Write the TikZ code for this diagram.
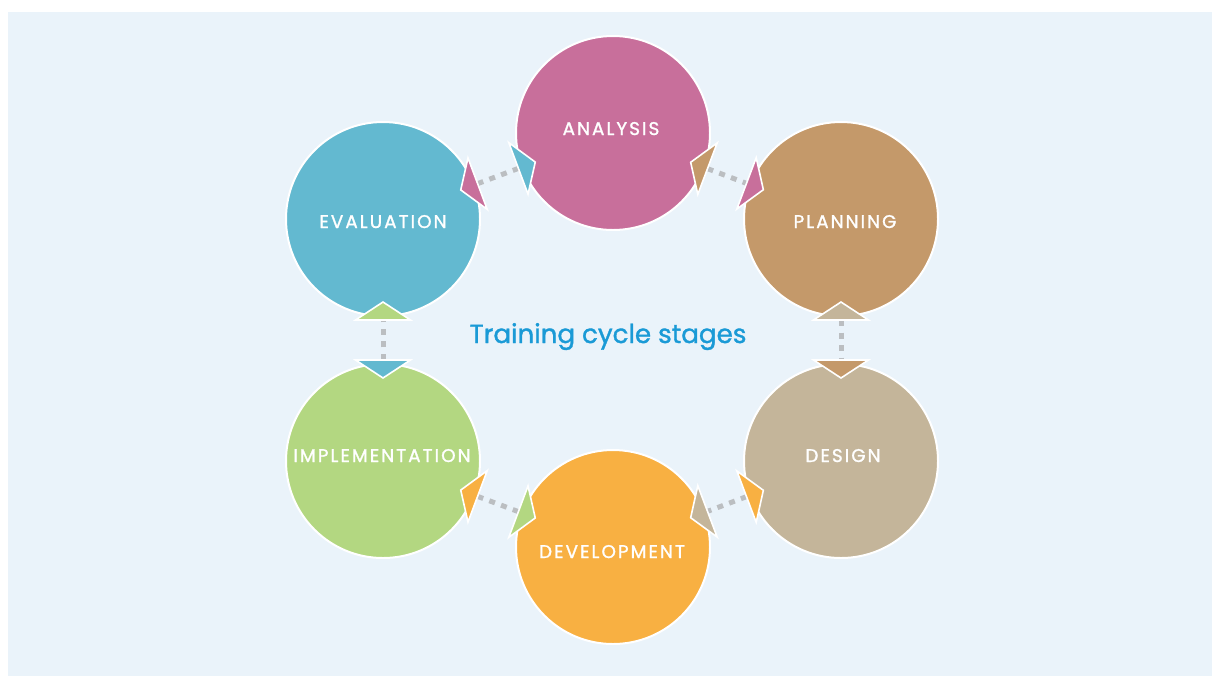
\documentclass[tikz,border=0pt]{standalone}
\usepackage{fontspec}
\setmainfont{Poppins}
\newfontfamily\stagefont[LetterSpace=11,FakeBold=1.3]{Poppins}
\newfontfamily\titlefont[FakeBold=1.3]{Poppins}
\usetikzlibrary{calc}

\definecolor{bgpanel}{HTML}{EAF3FA}
\definecolor{cana}{HTML}{C86F9B}
\definecolor{cpla}{HTML}{C4996A}
\definecolor{cdes}{HTML}{C4B59A}
\definecolor{cdev}{HTML}{F8B042}
\definecolor{cimp}{HTML}{B3D781}
\definecolor{ceva}{HTML}{63B9D0}
\definecolor{dotgray}{HTML}{BBBEC1}
\definecolor{titleblue}{HTML}{1A9AD6}

% dotted link between two stage circles
\newcommand\stagelink[2]{%
  \path[link] ($(#1)!75.75pt!(#2)$) -- ($(#2)!75.75pt!(#1)$);
}
% pointer wedge on circle #2, coloured #3, pointing in from circle #1
\newcommand\stagetip[3]{%
  \coordinate (tipbase) at ($(#2)!75.75pt!(#1)$);
  \filldraw[tip,fill=#3] ($(#2)!62.25pt!(#1)$)
    -- ($(tipbase)!20.6pt!90:(#2)$)
    -- ($(tipbase)!20.6pt!-90:(#2)$) -- cycle;
}

\begin{document}
\begin{tikzpicture}[x=0.75pt,y=-0.75pt,
  stage/.style={circle,draw=white,line width=1.5pt,minimum size=145.5pt,inner sep=0pt},
  lbl/.style={text=white,font=\stagefont\fontsize{13.8}{15}\selectfont,anchor=base,inner sep=0pt},
  link/.style={draw=dotgray,line width=3.75pt,dash pattern=on 4.5pt off 4.9pt},
  tip/.style={draw=white,line width=1.2pt,line join=miter}]
\useasboundingbox (0,0) rectangle (1212,676);
\fill[bgpanel] (8,12) rectangle (1212,676);

% stage circles
\node[stage,fill=cana] (ana) at (613,133) {};
\node[stage,fill=cpla] (pla) at (841,219) {};
\node[stage,fill=cdes] (des) at (841,461) {};
\node[stage,fill=cdev] (dev) at (613,547) {};
\node[stage,fill=cimp] (imp) at (383,461) {};
\node[stage,fill=ceva] (eva) at (383,219) {};

% dotted links
\stagelink{eva}{ana}
\stagelink{ana}{pla}
\stagelink{pla}{des}
\stagelink{des}{dev}
\stagelink{dev}{imp}
\stagelink{imp}{eva}

% pointer wedges, each in the colour of the stage it comes from
\stagetip{eva}{ana}{ceva}
\stagetip{ana}{eva}{cana}
\stagetip{ana}{pla}{cana}
\stagetip{pla}{ana}{cpla}
\stagetip{pla}{des}{cpla}
\stagetip{des}{pla}{cdes}
\stagetip{des}{dev}{cdes}
\stagetip{dev}{des}{cdev}
\stagetip{dev}{imp}{cdev}
\stagetip{imp}{dev}{cimp}
\stagetip{imp}{eva}{cimp}
\stagetip{eva}{imp}{ceva}

% stage labels
\node[lbl] (tana) at (611,135) {ANALYSIS};
\node[lbl] (tpla) at (845,228) {PLANNING};
\node[lbl] (tdes) at (843,462) {DESIGN};
\node[lbl] (tdev) at (612,558) {DEVELOPMENT};
\node[lbl] (timp) at (382,462) {IMPLEMENTATION};
\node[lbl] (teva) at (383,228) {EVALUATION};

% centre title
\node[text=titleblue,font=\titlefont\fontsize{19.6}{22}\selectfont,anchor=base,inner sep=0pt] (title) at (608,343) {Training cycle stages};
\end{tikzpicture}
\end{document}
